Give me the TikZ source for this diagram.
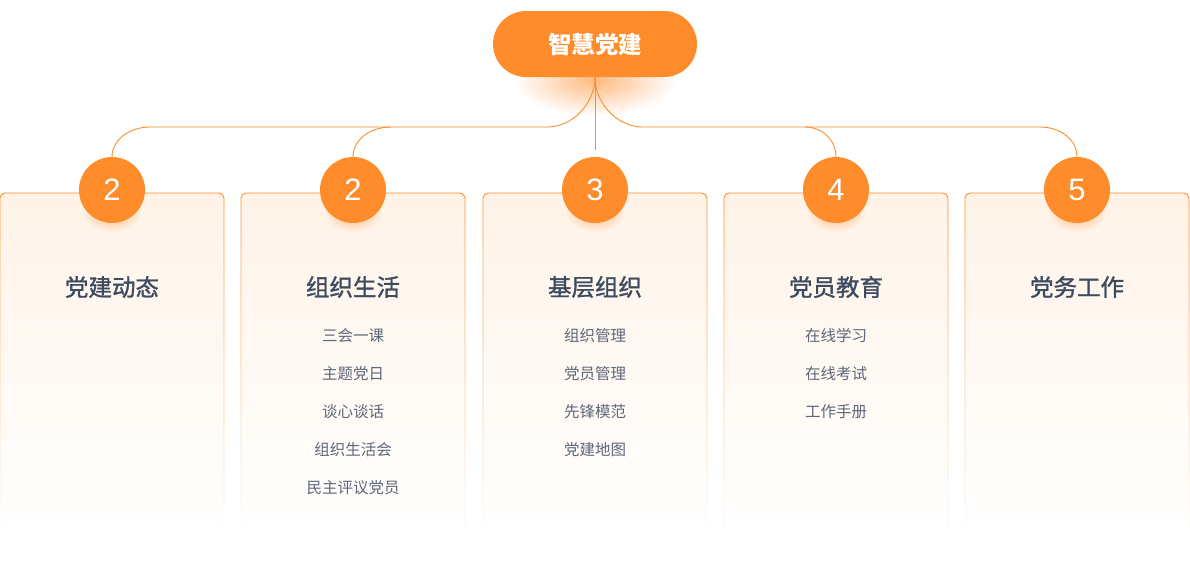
\documentclass[tikz,border=0pt]{standalone}
\usepackage{fontspec}
\setmainfont{Noto Sans CJK SC}
\newfontfamily\titlefont[FakeBold=1.3]{Noto Sans CJK SC}
\newfontfamily\digitfont{Liberation Sans}
\usetikzlibrary{fadings}
\definecolor{orgc}{HTML}{FF8C2A}
\definecolor{cardtop}{HTML}{FFF3E8}
\definecolor{titlec}{HTML}{3C4B60}
\definecolor{itemc}{HTML}{5E6778}
\tikzfading[name=glowfade, inner color=transparent!40, outer color=transparent!100]
\tikzfading[name=borderfade, top color=transparent!0, bottom color=transparent!100]
\begin{document}
\begin{tikzpicture}[x=1pt,y=1pt,
  cardborder/.style={draw=orgc, line width=0.9pt, rounded corners=5pt, path fading=borderfade},
  numcirc/.style={circle, fill=orgc, minimum size=66pt, inner sep=0pt, text=white, font=\digitfont\fontsize{31}{31}\selectfont},
  cardtitle/.style={text=titlec, font=\titlefont\fontsize{23.5}{23.5}\selectfont, inner sep=0pt},
  carditem/.style={text=itemc, font=\fontsize{15.5}{15.5}\selectfont, inner sep=0pt},
  link/.style={draw=orgc, line width=0.9pt},
  glow/.style={fill=orgc, path fading=glowfade}]
\useasboundingbox (0,0) rectangle (1190,-563);

% cards
\foreach \i/\cx in {1/112,2/353,3/595,4/836,5/1077}{
  \shade[top color=cardtop, bottom color=white, rounded corners=5pt] (\cx-112,-193) rectangle (\cx+112,-537);
  \draw[cardborder] (\cx-112,-537) -- (\cx-112,-193) -- (\cx+112,-193) -- (\cx+112,-537);
}

% root
\fill[glow] (595,-80) ellipse (82 and 36);
\node[fill=orgc, rounded corners=33pt, minimum width=204pt, minimum height=66pt, inner sep=0pt,
      text=white, font=\bfseries\fontsize{23.5}{23.5}\selectfont] (root) at (595,-44) {智慧党建};

% circles
\foreach \i/\cx/\n in {1/112/2,2/353/2,3/595/3,4/836/4,5/1077/5}{
  \fill[glow] (\cx,-212) ellipse (30 and 20);
  \node[numcirc] (c\i) at (\cx,-190) {\n};
}

% titles
\foreach \i/\cx/\t in {1/112/党建动态,2/353/组织生活,3/595/基层组织,4/836/党员教育,5/1077/党务工作}{
  \node[cardtitle] (t\i) at (\cx,-287) {\t};
}

% items
\node[carditem] (i21) at (353,-336) {三会一课};
\node[carditem] (i22) at (353,-374) {主题党日};
\node[carditem] (i23) at (353,-412) {谈心谈话};
\node[carditem] (i24) at (353,-450) {组织生活会};
\node[carditem] (i25) at (353,-488) {民主评议党员};
\node[carditem] (i31) at (595,-336) {组织管理};
\node[carditem] (i32) at (595,-374) {党员管理};
\node[carditem] (i33) at (595,-412) {先锋模范};
\node[carditem] (i34) at (595,-450) {党建地图};
\node[carditem] (i41) at (836,-336) {在线学习};
\node[carditem] (i42) at (836,-374) {在线考试};
\node[carditem] (i43) at (836,-412) {工作手册};

% connectors
\coordinate (hl) at (547,-127);
\coordinate (hl1) at (150,-127);
\coordinate (hl2) at (391,-127);
\coordinate (hr) at (643,-127);
\coordinate (hr4) at (805,-127);
\coordinate (hr5) at (1040,-127);
\coordinate (trunkend) at (595,-150);
\draw[link] (root.south) .. controls +(0,-26) and +(26,0) .. (hl) -- (hl1)
  .. controls +(-21,0) and +(0,16.5) .. (c1.north);
\draw[link] (c2.north) .. controls +(0,17) and +(-21,0) .. (hl2);
\draw[link] (root.south) -- (trunkend);
\draw[link] (root.south) .. controls +(0,-26) and +(-26,0) .. (hr) -- (hr5)
  .. controls +(21,0) and +(0,16.5) .. (c5.north);
\draw[link] (hr4) .. controls +(17,0) and +(0,17) .. (c4.north);
\end{tikzpicture}
\end{document}
